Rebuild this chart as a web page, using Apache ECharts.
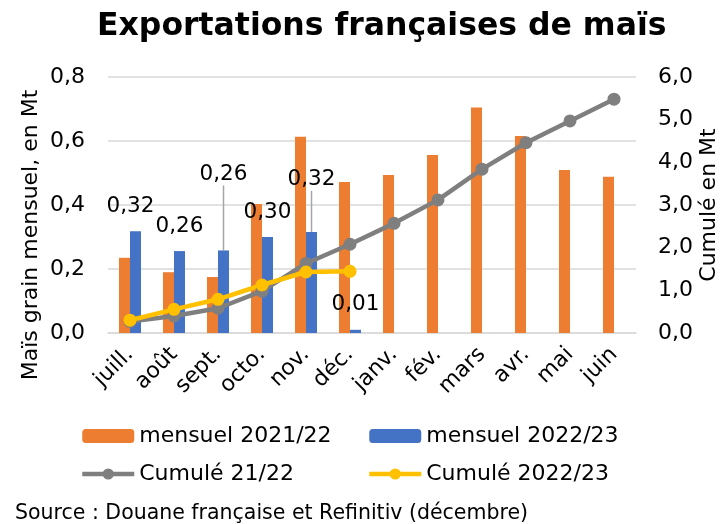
<!DOCTYPE html>
<html>
<head>
<meta charset="utf-8">
<title>Exportations françaises de maïs</title>
<script src="https://cdn.jsdelivr.net/npm/echarts@6/dist/echarts.min.js"></script>
<style>
  body { margin: 0; background: #fff; }
  #main { width: 726px; height: 524px; }
</style>
</head>
<body>
<div id="main"></div>
<script>
// données
var mois = ['juill.', 'août', 'sept.', 'octo.', 'nov.', 'déc.', 'janv.', 'fév.', 'mars', 'avr.', 'mai', 'juin'];
var mensuel2122 = [0.235, 0.19, 0.175, 0.403, 0.613, 0.472, 0.494, 0.556, 0.705, 0.616, 0.509, 0.488];
var mensuel2223 = [0.318, 0.256, 0.258, 0.30, 0.316, 0.01];
var cumul2122 = [0.27, 0.40, 0.58, 0.98, 1.63, 2.08, 2.57, 3.12, 3.84, 4.46, 4.97, 5.48];
var cumul2223 = [0.30, 0.555, 0.79, 1.125, 1.43, 1.445];
var ticksGauche = [0, 0.2, 0.4, 0.6, 0.8];
var ticksDroite = [0, 1, 2, 3, 4, 5, 6];

var police = 'DejaVu Sans';
var virgule = function (v, d) { return v.toFixed(d).replace('.', ','); };

// labels déplacés (avec trait de rappel) pour sept. et nov.
var decalage = { 0: [-5, 0], 2: [0, -51], 4: [0, -27] };

var chart = echarts.init(document.getElementById('main'));

var texte = { fontFamily: police, fontSize: 22, color: '#000' };

var option = {
  animation: false,
  title: {
    text: 'Exportations françaises de maïs',
    left: 92,
    top: 6,
    textStyle: { fontFamily: police, fontWeight: 'bold', fontSize: 31.5, color: '#000' }
  },
  grid: { left: 108, right: 90, top: 77, bottom: 191, containLabel: false, outerBoundsMode: 'none' },
  legend: [{
    orient: 'vertical',
    left: 75, top: 420,
    itemWidth: 52, itemHeight: 14, itemGap: 16,
    lineStyle: { width: 4.5 },
    data: ['mensuel 2021/22', 'Cumulé 21/22'],
    textStyle: texte
  }, {
    orient: 'vertical',
    left: 362, top: 420,
    itemWidth: 52, itemHeight: 14, itemGap: 16,
    lineStyle: { width: 4.5 },
    data: ['mensuel 2022/23', 'Cumulé 2022/23'],
    textStyle: texte
  }],
  graphic: [{
    type: 'text',
    left: 15, top: 503,
    style: { text: 'Source : Douane française et Refinitiv (décembre)', fontFamily: police, fontSize: 20.5, fill: '#000' }
  }],
  xAxis: {
    type: 'category',
    data: mois,
    axisTick: { show: false },
    axisLine: { lineStyle: { color: '#d9d9d9', width: 1.5 } },
    axisLabel: { rotate: 45, fontFamily: police, fontSize: 22, color: '#000', margin: 18, interval: 0 }
  },
  yAxis: [{
    type: 'value',
    min: 0, max: ticksGauche[ticksGauche.length - 1], interval: 0.2,
    name: 'Maïs grain mensuel, en Mt',
    nameLocation: 'middle', nameGap: 66, nameRotate: 90, nameMoveOverlap: false,
    nameTextStyle: { fontFamily: police, fontSize: 22, color: '#000', padding: [0, 60, 0, 0] },
    axisLabel: { fontFamily: police, fontSize: 22, color: '#000', margin: 23, formatter: function (v) { return virgule(v, 1); } },
    splitLine: { lineStyle: { color: '#d9d9d9', width: 1.5 } }
  }, {
    type: 'value',
    min: 0, max: ticksDroite[ticksDroite.length - 1], interval: 1,
    name: 'Cumulé en Mt',
    nameLocation: 'middle', nameGap: 62, nameRotate: 90, nameMoveOverlap: false,
    nameTextStyle: texte,
    axisLabel: { fontFamily: police, fontSize: 22, color: '#000', margin: 22, formatter: function (v) { return virgule(v, 1); } },
    splitLine: { show: false }
  }],
  series: [{
    name: 'mensuel 2021/22',
    type: 'bar',
    barWidth: 11, barGap: '0%',
    itemStyle: { color: '#ed7d31' },
    data: mensuel2122
  }, {
    name: 'mensuel 2022/23',
    type: 'bar',
    barWidth: 11,
    itemStyle: { color: '#4472c4' },
    label: {
      show: true, position: 'top', distance: 14,
      fontFamily: police, fontSize: 21.5, color: '#000',
      formatter: function (p) { return virgule(p.value, 2); }
    },
    labelLine: { show: true, lineStyle: { color: '#a6a6a6', width: 1.5 } },
    labelLayout: function (p) {
      var d = decalage[p.dataIndex];
      return d ? { dx: d[0], dy: d[1] } : {};
    },
    data: mensuel2223.map(function (v, i) {
      return { value: v, labelLine: { show: i === 2 || i === 4 } };
    })
  }, {
    name: 'Cumulé 21/22',
    type: 'line',
    yAxisIndex: 1,
    symbol: 'circle', symbolSize: 13,
    lineStyle: { color: '#7f7f7f', width: 4.5 },
    itemStyle: { color: '#7f7f7f' },
    data: cumul2122
  }, {
    name: 'Cumulé 2022/23',
    type: 'line',
    yAxisIndex: 1,
    symbol: 'circle', symbolSize: 13,
    lineStyle: { color: '#ffc000', width: 4.5 },
    itemStyle: { color: '#ffc000' },
    data: cumul2223
  }]
};

chart.setOption(option);
</script>
</body>
</html>
